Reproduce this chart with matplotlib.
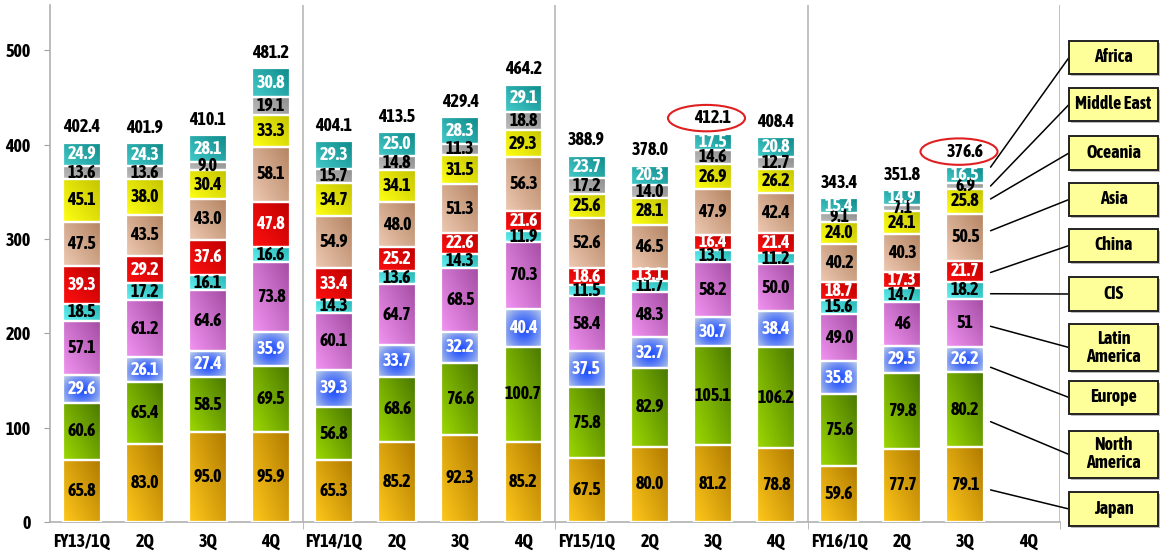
import numpy as np
import matplotlib
matplotlib.use("Agg")
import matplotlib.pyplot as plt
from matplotlib.patches import Rectangle, Ellipse
from matplotlib.colors import to_rgb
from matplotlib import font_manager


def _w(f):
    w = f.weight
    if isinstance(w, str):
        return font_manager.weight_dict.get(w, 400)
    return w


bold_narrow = sorted({f.name for f in font_manager.fontManager.ttflist
                      if ('Narrow' in f.name or 'Condensed' in f.name) and _w(f) >= 600},
                     key=lambda s: (0 if 'Liberation' in s else 1, s))
if bold_narrow:
    FONT = [bold_narrow[0], 'Liberation Sans', 'DejaVu Sans']
    FS = 13
else:
    FONT = ['Liberation Sans', 'DejaVu Sans']
    FS = 10.5
plt.rcParams['font.family'] = FONT
plt.rcParams['font.weight'] = 'bold'

# ---------------- data ----------------
categories = ['FY13/1Q', '2Q', '3Q', '4Q', 'FY14/1Q', '2Q', '3Q', '4Q',
              'FY15/1Q', '2Q', '3Q', '4Q', 'FY16/1Q', '2Q', '3Q', '4Q']
regions = ['Japan', 'North\nAmerica', 'Europe', 'Latin\nAmerica', 'CIS', 'China',
           'Asia', 'Oceania', 'Middle East', 'Africa']

japan = [65.8, 83.0, 95.0, 95.9, 65.3, 85.2, 92.3, 85.2, 67.5, 80.0, 81.2, 78.8, 59.6, 77.7, 79.1]
north_america = [60.6, 65.4, 58.5, 69.5, 56.8, 68.6, 76.6, 100.7, 75.8, 82.9, 105.1, 106.2, 75.6, 79.8, 80.2]
europe = [29.6, 26.1, 27.4, 35.9, 39.3, 33.7, 32.2, 40.4, 37.5, 32.7, 30.7, 38.4, 35.8, 29.5, 26.2]
latin_america = [57.1, 61.2, 64.6, 73.8, 60.1, 64.7, 68.5, 70.3, 58.4, 48.3, 58.2, 50.0, 49.0, 46, 51]
cis = [18.5, 17.2, 16.1, 16.6, 14.3, 13.6, 14.3, 11.9, 11.5, 11.7, 13.1, 11.2, 15.6, 14.7, 18.2]
china = [39.3, 29.2, 37.6, 47.8, 33.4, 25.2, 22.6, 21.6, 18.6, 13.1, 16.4, 21.4, 18.7, 17.3, 21.7]
asia = [47.5, 43.5, 43.0, 58.1, 54.9, 48.0, 51.3, 56.3, 52.6, 46.5, 47.9, 42.4, 40.2, 40.3, 50.5]
oceania = [45.1, 38.0, 30.4, 33.3, 34.7, 34.1, 31.5, 29.3, 25.6, 28.1, 26.9, 26.2, 24.0, 24.1, 25.8]
middle_east = [13.6, 13.6, 9.0, 19.1, 15.7, 14.8, 11.3, 18.8, 17.2, 14.0, 14.6, 12.7, 9.1, 7.1, 6.9]
africa = [24.9, 24.3, 28.1, 30.8, 29.3, 25.0, 28.3, 29.1, 23.7, 20.3, 17.5, 20.8, 15.4, 14.9, 16.5]
totals = [402.4, 401.9, 410.1, 481.2, 404.1, 413.5, 429.4, 464.2, 388.9, 378.0, 412.1, 408.4, 343.4, 351.8, 376.6]
circled = [10, 14]

series = [japan, north_america, europe, latin_america, cis, china, asia, oceania, middle_east, africa]

# ---------------- styles ----------------
grad_colors = [('#FFC81A', '#B07A00'), ('#9CD800', '#4A7800'), ('#1E4EFF', '#B4C6E8'),
               ('#F294F2', '#A44CA4'), ('#66F2F2', '#22B4B4'), ('#FF1010', '#BE0000'),
               ('#EEC9B2', '#B48462'), ('#FFFF14', '#C4C400'), ('#BDBDBD', '#8E8E8E'),
               ('#44CACA', '#0E8A8A')]
text_colors = ['black', 'black', 'white', 'black', 'black', 'white',
               'black', 'black', 'black', 'white']
anchor_frac = [0.43, 0.34, 0.18, 0.43, 0.3, 0.45, 0.64, 0.6, 0.5, 1.0]

W, H = 1161, 559
fig = plt.figure(figsize=(W / 100, H / 100), dpi=100)
ax = fig.add_axes([50 / W, 37 / H, 1010 / W, 517 / H])

n = len(totals)
x = np.arange(n)
bar_w = 0.6


def gradient(c1, c2, radial=False, m=40):
    g = np.linspace(0, 1, m)
    X, Y = np.meshgrid(g, g)
    if radial:
        t = np.clip(np.sqrt(((X - 0.5) / 0.62) ** 2 + ((Y - 0.45) / 0.7) ** 2), 0, 1) ** 1.3
    else:
        t = (X * 0.55 + Y * 0.45)
    a, b = np.array(to_rgb(c1)), np.array(to_rgb(c2))
    return a[None, None, :] * (1 - t[..., None]) + b[None, None, :] * t[..., None]


bottom = np.zeros(n)
bottoms = []
for si, vals in enumerate(series):
    vals = np.array(vals, dtype=float)
    bars = ax.bar(x, vals, bar_w, bottom=bottom, color=grad_colors[si][0],
                  edgecolor='white', linewidth=1.6, zorder=3)
    img = gradient(*grad_colors[si], radial=(si == 2))
    for p in bars.patches:
        x0, y0 = p.get_x(), p.get_y()
        im = ax.imshow(img, extent=[x0, x0 + p.get_width(), y0, y0 + p.get_height()],
                       origin='lower', aspect='auto', zorder=2, interpolation='bilinear')
        im.set_clip_path(p)
        p.set_facecolor('none')
    for i, v in enumerate(series[si]):
        txt = str(v) if isinstance(v, int) else f"{v:.1f}"
        ax.text(x[i], bottom[i] + vals[i] / 2, txt, ha='center', va='center',
                fontsize=FS, fontweight='bold', color=text_colors[si], zorder=5)
    bottoms.append(bottom.copy())
    bottom = bottom + vals

label_off = 16
for i, t in enumerate(totals):
    ax.text(x[i], t + label_off, f"{t:.1f}", ha='center', va='center',
            fontsize=FS, fontweight='bold', color='black', zorder=5)
for i in circled:
    ax.add_patch(Ellipse((x[i] - 0.1, totals[i] + label_off), 1.22, 28,
                         fill=False, edgecolor='#E02020', linewidth=1.5, zorder=6))

# axes styling
ax.set_xlim(-0.5, 15.5)
ax.set_ylim(0, 548)
ax.set_xticks(np.arange(len(categories)))
ax.set_xticklabels(categories, fontsize=FS, fontweight='bold')
ax.set_yticks([0, 100, 200, 300, 400, 500])
ax.set_yticklabels(['0', '100', '200', '300', '400', '500'], fontsize=FS, fontweight='bold')
ax.tick_params(axis='x', length=0, pad=8)
ax.tick_params(axis='y', length=4, color='#A0A0A0', pad=10)
ax.set_xticks([3.5, 7.5, 11.5, 15.5], minor=True)
ax.tick_params(axis='x', which='minor', length=5, color='#B0B0B0')
for s in ['top', 'right']:
    ax.spines[s].set_visible(False)
for s in ['left', 'bottom']:
    ax.spines[s].set_color('#B0B0B0')
    ax.spines[s].set_linewidth(1.2)
for sx in [3.5, 7.5, 11.5, 15.5]:
    ax.axvline(sx, color='#B8B8B8', linewidth=1.2, zorder=1)

# legend boxes with leader lines
box_left, box_w = 1069, 89
box_tops = [492, 431, 381, 324, 277, 229, 183, 136, 88, 41]
box_hs = [34, 47, 33, 47, 34, 33, 33, 34, 33, 33]
anchor_x = 14.4
for si in range(len(series)):
    top, h = box_tops[si], box_hs[si]
    yb = (H - top - h) / H
    fig.patches.append(Rectangle(((box_left + 2) / W, yb - 2 / H), box_w / W, h / H,
                                 transform=fig.transFigure, facecolor='#BBBBBB',
                                 edgecolor='none', zorder=1))
    fig.patches.append(Rectangle((box_left / W, yb), box_w / W, h / H,
                                 transform=fig.transFigure, facecolor='#FFFF99',
                                 edgecolor='#222222', linewidth=1.4, zorder=2))
    fig.text((box_left + box_w / 2) / W, yb + h / (2 * H), regions[si],
             ha='center', va='center', fontsize=FS, fontweight='bold',
             linespacing=1.0, zorder=3)
    ay = bottoms[si][14] + series[si][14] * anchor_frac[si]
    ax.annotate('', xy=(box_left / W, yb + h / (2 * H)), xycoords='figure fraction',
                xytext=(anchor_x, ay), textcoords='data',
                arrowprops=dict(arrowstyle='-', color='black', lw=1.1,
                                shrinkA=0, shrinkB=0),
                annotation_clip=False, zorder=6)

fig.savefig('out.png', dpi=100)
